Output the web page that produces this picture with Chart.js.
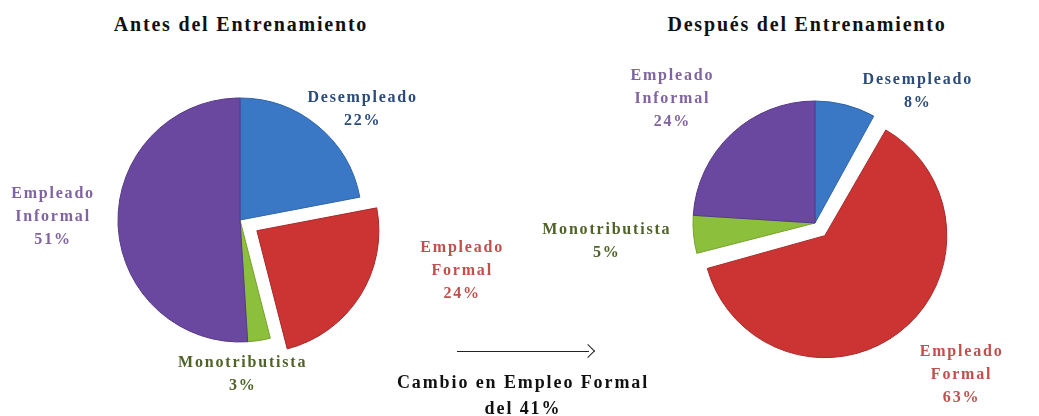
<!DOCTYPE html>
<html>
<head>
<meta charset="utf-8">
<script src="https://cdn.jsdelivr.net/npm/chart.js@4.4.1/dist/chart.umd.min.js"></script>
<style>
  html, body { margin:0; padding:0; background:#fff; }
  body { width:1039px; height:416px; overflow:hidden; position:relative;
         font-family:"Liberation Serif", "Times New Roman", serif; }
  .title { position:absolute; top:13px; width:400px; text-align:center;
           font-weight:bold; font-size:20px; letter-spacing:1.8px; color:#111; }
  canvas { position:absolute; }
  .note { position:absolute; left:373px; top:369px; width:300px; text-align:center;
          font-weight:bold; font-size:18px; line-height:26px; letter-spacing:1.9px; color:#111; }
  .arrow { position:absolute; left:457px; top:351px; width:132px; height:1px; background:#222; }
  .arrow:after { content:""; position:absolute; right:-4px; top:-5px; width:9px; height:9px;
                 border-top:1px solid #222; border-right:1px solid #222; transform:rotate(45deg); }
</style>
</head>
<body>

<div class="title" style="left:41px">Antes del Entrenamiento</div>
<div class="title" style="left:607px">Después del Entrenamiento</div>

<canvas id="antesChart" width="540" height="400" style="left:-30px; top:20px"></canvas>
<canvas id="despuesChart" width="560" height="400" style="left:535px; top:23px"></canvas>

<div class="arrow"></div>
<div class="note">Cambio en Empleo Formal<br>del 41%</div>

<script>
// DATA

const categories = ['Desempleado', 'Empleado Formal', 'Monotributista', 'Empleado Informal'];

const antesValues = [22, 24, 3, 51];

const despuesValues = [8, 63, 5, 24];

const sliceColors = ['#3a78c6', '#cc3434', '#8cbf3c', '#6a48a0'];

const edgeColors = ['#2e64a8', '#a82828', '#74a02c', '#56388a'];

const textColors = ['#2a4b7c', '#c0504d', '#4f6228', '#8064a2'];

// LABELS AROUND THE PIE

const sliceLabels = {

  id: 'sliceLabels',

  afterDatasetsDraw(chart, args, opts){

    const ctx = chart.ctx;

    const meta = chart.getDatasetMeta(0);

    const values = chart.data.datasets[0].data;

    ctx.save();

    ctx.font = 'bold 16px "Liberation Serif", "Times New Roman", serif';

    ctx.letterSpacing = '1.8px';

    ctx.textAlign = 'center';

    ctx.textBaseline = 'middle';

    meta.data.forEach((arc, i) => {

      const place = opts.place[i];

      const a = (place[0] - 90) * Math.PI / 180;

      const x = arc.x + Math.cos(a) * place[1];

      const y = arc.y + Math.sin(a) * place[1];

      const lines = chart.data.labels[i].split(' ');

      lines.push(values[i] + '%');

      const lh = 23;

      const top = y - (lines.length - 1) * lh / 2;

      ctx.fillStyle = textColors[i];

      lines.forEach((line, k) => {
        ctx.fillText(line, x, top + k * lh);
      });

    });

    ctx.restore();

  }

};

// chart.js grows a pulled slice bigger than half the pie by the pull,
// take it back so every slice keeps the same radius

const keepRadius = {

  id: 'keepRadius',

  afterDatasetUpdate(chart){

    const meta = chart.getDatasetMeta(0);

    meta.data.forEach(arc => {

      const pull = (arc.options.offset || 0) / 4;

      const fix = 1 - Math.sin(Math.min(Math.PI, arc.circumference));

      arc.outerRadius -= pull * fix;

    });

  }

};

// BUILD A PIE
// chart.js draws the offset at a quarter of the value

function makePie(id, values, pull, place){

  return new Chart(document.getElementById(id), {
    type: 'pie',
    data: {
      labels: categories,
      datasets: [{
        data: values,
        backgroundColor: sliceColors,
        borderColor: edgeColors,
        borderWidth: 1,
        offset: [0, pull * 4, 0, 0]
      }]
    },
    options: {
      responsive: false,
      animation: false,
      radius: 122,
      layout: { padding: 0 },
      plugins: {
        legend: { display: false },
        tooltip: { enabled: false },
        sliceLabels: { place: place }
      }
    },
    plugins: [keepRadius, sliceLabels]
  });

}

// [angle from top, distance from centre]

makePie('antesChart', antesValues, 20, [[48, 165], [103, 228], [179, 154], [271, 187]]);

makePie('despuesChart', despuesValues, 16, [[38, 167], [136, 211], [265, 209], [311, 189]]);

</script>
</body>
</html>
